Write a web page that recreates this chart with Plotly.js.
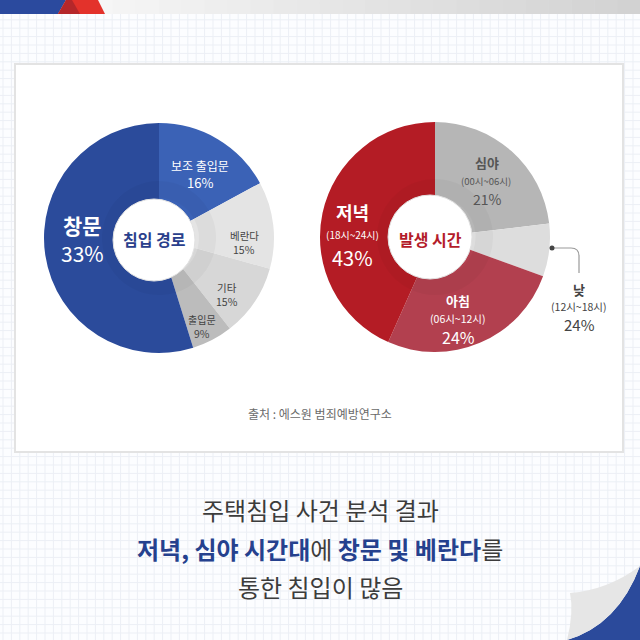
<!DOCTYPE html>
<html>
<head>
<meta charset="utf-8">
<script src="https://cdn.plot.ly/plotly-3.0.1.min.js"></script>
<style>
html,body{margin:0;padding:0;background:#fff;}
#chart{width:640px;height:640px;}
</style>
</head>
<body>
<div id="chart"></div>
<script>
// ---- Data ----
// 침입 경로 (intrusion route), clockwise from 12 o'clock
const routeLabels = ['보조 출입문', '베란다', '기타', '출입문', '창문'];
const routePct = [16, 15, 15, 9, 33];                 // printed percentages
const routeShare = [61.5, 44, 36.5, 20.7, 197.3];     // slice sizes as drawn (degrees)
// 발생 시간 (time of occurrence), clockwise from 12 o'clock
const timeLabels = ['심야', '낮', '아침', '저녁'];
const timeRanges = ['(00시~06시)', '(12시~18시)', '(06시~12시)', '(18시~24시)'];
const timePct = [21, 24, 24, 43];
const timeShare = [83.3, 26.7, 94, 156];
const sourceText = '출처 : 에스원 범죄예방연구소';
const headline1 = '주택침입 사건 분석 결과';
const headline2Parts = [['저녁, 심야 시간대', true], ['에 ', false], ['창문 및 베란다', true], ['를', false]];
const headline3 = '통한 침입이 많음';

// ---- helpers ----
const W = 640;
const px = x => x / W;
const py = y => 1 - y / W;
const P = (x, y) => px(x).toFixed(5) + ',' + py(y).toFixed(5);
const FONT = '"Noto Sans CJK KR", "Noto Sans", sans-serif';

const routeColors = ['#3b62b6', '#e4e4e4', '#d7d7d7', '#bcbcbc', '#2b4b9b'];
const timeColors = ['#b6b6b6', '#dddddd', '#b2404f', '#b41c25'];

const L = {cx: 159, cy: 238, r: 115};
const R = {cx: 435, cy: 237, r: 115};

function dom(c, r) {
  return {x: [px(c.cx - r), px(c.cx + r)], y: [py(c.cy + r), py(c.cy - r)]};
}

const traces = [
  {type: 'pie', values: routeShare, labels: routeLabels, marker: {colors: routeColors, line: {width: 0}},
   sort: false, direction: 'clockwise', rotation: 0, hole: 0.3, textinfo: 'none', hoverinfo: 'skip',
   domain: dom(L, L.r), showlegend: false},
  {type: 'pie', values: routeShare, labels: routeLabels.map(s => s + ' '), marker: {colors: routeShare.map(() => 'rgba(0,0,0,0.03)'), line: {width: 0}},
   sort: false, direction: 'clockwise', rotation: 0, hole: 0.7, textinfo: 'none', hoverinfo: 'skip',
   domain: dom(L, 57), showlegend: false},
  {type: 'pie', values: timeShare, labels: timeLabels, marker: {colors: timeColors, line: {width: 0}},
   sort: false, direction: 'clockwise', rotation: 0, hole: 0.3, textinfo: 'none', hoverinfo: 'skip',
   domain: dom(R, R.r), showlegend: false},
  {type: 'pie', values: timeShare, labels: timeLabels.map(s => s + ' '), marker: {colors: timeShare.map(() => 'rgba(0,0,0,0.03)'), line: {width: 0}},
   sort: false, direction: 'clockwise', rotation: 0, hole: 0.7, textinfo: 'none', hoverinfo: 'skip',
   domain: dom(R, 58), showlegend: false}
];

const shapes = [];
// background grid
for (let g = 3; g < W; g += 8.4) {
  shapes.push({type: 'line', xref: 'paper', yref: 'paper', x0: px(g), x1: px(g), y0: 0, y1: 1, line: {color: '#eceff5', width: 1}, layer: 'below'});
  shapes.push({type: 'line', xref: 'paper', yref: 'paper', x0: 0, x1: 1, y0: py(g), y1: py(g), line: {color: '#eceff5', width: 1}, layer: 'below'});
}
// card
shapes.push({type: 'rect', xref: 'paper', yref: 'paper', x0: px(15), x1: px(623), y0: py(452), y1: py(64), fillcolor: '#ffffff', line: {color: '#e3e3e3', width: 2}, layer: 'below'});
// top banner: grey gradient bar
const steps = 24;
for (let i = 0; i < steps; i++) {
  const x0 = 90 + i * (550 / steps), x1 = 90 + (i + 1) * (550 / steps) + 0.5;
  const t = i / (steps - 1);
  const v = Math.round(246 - t * 36);
  shapes.push({type: 'rect', xref: 'paper', yref: 'paper', x0: px(x0), x1: px(x1), y0: py(14), y1: py(0), fillcolor: `rgb(${v},${v},${v})`, line: {width: 0}, layer: 'below'});
}
shapes.push({type: 'path', xref: 'paper', yref: 'paper', path: `M${P(0,0)} L${P(66,0)} L${P(58,14)} L${P(0,14)} Z`, fillcolor: '#2b4a9e', line: {width: 0}, layer: 'below'});
shapes.push({type: 'path', xref: 'paper', yref: 'paper', path: `M${P(66,0)} L${P(98,0)} L${P(105,14)} L${P(58,14)} Z`, fillcolor: '#e3322b', line: {width: 0}, layer: 'below'});
shapes.push({type: 'path', xref: 'paper', yref: 'paper', path: `M${P(58,14)} L${P(66,0)} L${P(72,0)} L${P(80,14)} Z`, fillcolor: '#b5272a', line: {width: 0}, layer: 'below'});
// page curl bottom-right
shapes.push({type: 'path', xref: 'paper', yref: 'paper', path: `M${P(567,640)} Q${P(618,625)} ${P(640,566)} L${P(640,640)} Z`, fillcolor: '#2b4a9b', line: {width: 0}, layer: 'below'});
shapes.push({type: 'path', xref: 'paper', yref: 'paper', path: `M${P(570,593)} Q${P(608,590)} ${P(640,566)} Q${P(618,625)} ${P(567,640)} Q${P(574,612)} ${P(570,593)} Z`, fillcolor: '#e6e6e6', line: {width: 0}, layer: 'below'});
// centre circles
shapes.push({type: 'circle', xref: 'paper', yref: 'paper', x0: px(154-41), x1: px(154+41), y0: py(240+41), y1: py(240-41), fillcolor: '#ffffff', line: {color: '#e2e2e2', width: 1}});
shapes.push({type: 'circle', xref: 'paper', yref: 'paper', x0: px(430-42), x1: px(430+42), y0: py(237+42), y1: py(237-42), fillcolor: '#ffffff', line: {color: '#e2e2e2', width: 1}});
// connector for 낮
shapes.push({type: 'path', xref: 'paper', yref: 'paper', path: `M${P(552,248)} L${P(571,248)} Q${P(579,248)} ${P(579,256)} L${P(579,273)}`, line: {color: '#9a9a9a', width: 1.2}});
shapes.push({type: 'circle', xref: 'paper', yref: 'paper', x0: px(549.5), x1: px(554.5), y0: py(250.5), y1: py(245.5), fillcolor: '#444', line: {width: 0}});

const ann = [];
function T(x, y, text, size, color) {
  ann.push({xref: 'paper', yref: 'paper', x: px(x), y: py(y), text: text, showarrow: false,
    xanchor: 'center', yanchor: 'middle', font: {family: FONT, size: size, color: color}});
}
// left donut labels
T(200, 165, routeLabels[0], 12, '#ffffff');
T(200, 183, routePct[0] + '%', 13, '#ffffff');
T(244, 235, routeLabels[1], 10.5, '#444');
T(244, 249, routePct[1] + '%', 10.5, '#444');
T(227, 287, routeLabels[2], 10.5, '#444');
T(227, 301, routePct[2] + '%', 10.5, '#444');
T(202, 319, routeLabels[3], 10, '#444');
T(202, 333, routePct[3] + '%', 10.5, '#444');
T(82, 225, '<b>' + routeLabels[4] + '</b>', 21, '#ffffff');
T(82, 253, routePct[4] + '%', 21, '#ffffff');
T(154, 239, '<b>침입 경로</b>', 16, '#2a3f8c');
// right donut labels
T(487, 163, '<b>' + timeLabels[0] + '</b>', 13, '#555');
T(486, 181, timeRanges[0], 9.5, '#555');
T(487, 199, timePct[0] + '%', 14, '#555');
T(579, 289, '<b>' + timeLabels[1] + '</b>', 13, '#444');
T(579, 306, timeRanges[1], 10.5, '#444');
T(579, 324, timePct[1] + '%', 15, '#444');
T(458, 300, '<b>' + timeLabels[2] + '</b>', 13, '#ffffff');
T(458, 318, timeRanges[2], 10.5, '#ffffff');
T(458, 337, timePct[2] + '%', 16, '#ffffff');
T(352, 212, '<b>' + timeLabels[3] + '</b>', 18, '#ffffff');
T(352, 234, timeRanges[3], 10, '#ffffff');
T(352, 257, timePct[3] + '%', 20, '#ffffff');
T(430, 239, '<b>발생 시간</b>', 16, '#b41c2a');
// source
T(320, 413, sourceText, 12, '#6a6a6a');
// headline
T(320, 509, headline1, 24, '#3c3c3c');
T(320, 548, headline2Parts.map(([s, b]) => b ? '<b>' + s + '</b>' : '<span style="color:#3c3c3c">' + s + '</span>').join(''), 24, '#25418e');
T(320, 586, headline3, 24, '#3c3c3c');

const layout = {
  width: 640, height: 640,
  margin: {l: 0, r: 0, t: 0, b: 0},
  paper_bgcolor: '#fcfdff',
  plot_bgcolor: 'rgba(0,0,0,0)',
  showlegend: false,
  shapes: shapes,
  annotations: ann,
  font: {family: FONT}
};

Plotly.newPlot('chart', traces, layout, {staticPlot: true, displayModeBar: false});
</script>
</body>
</html>
